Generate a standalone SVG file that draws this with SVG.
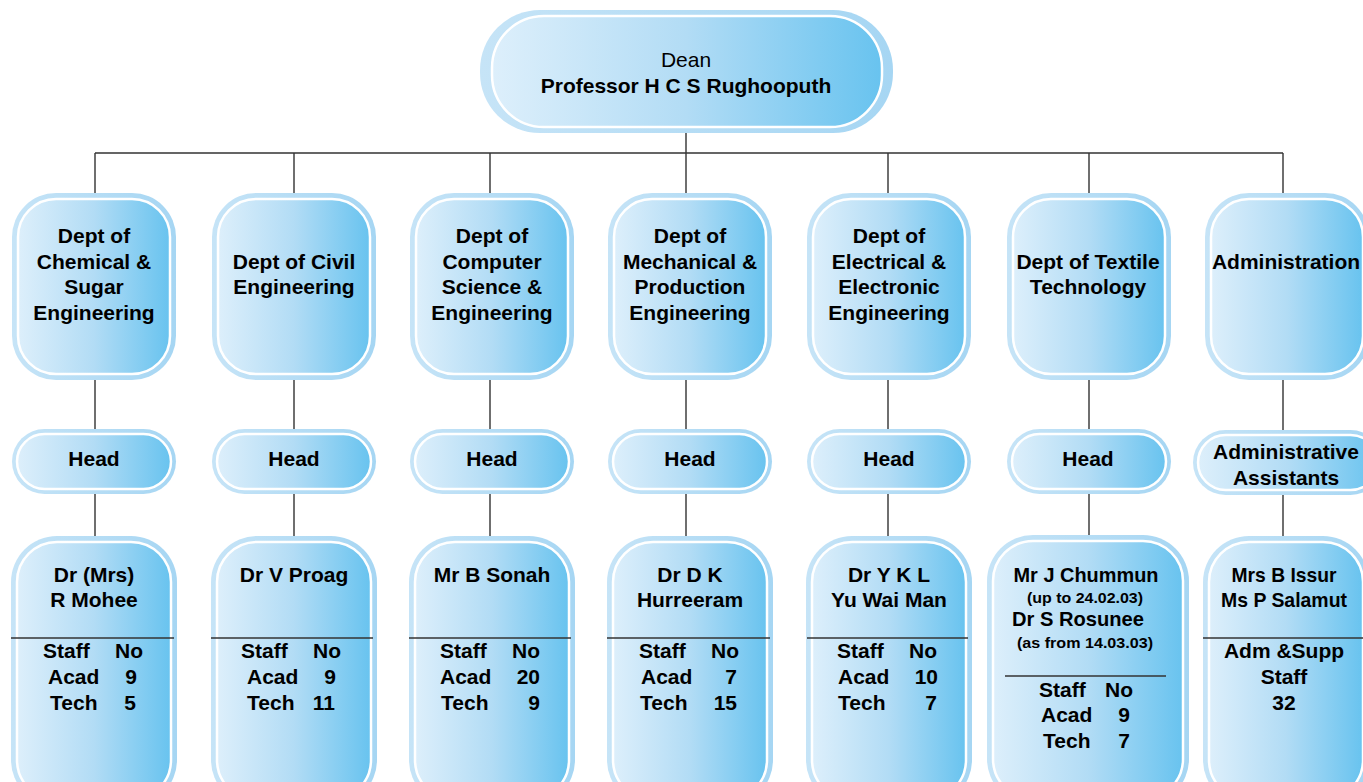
<svg xmlns="http://www.w3.org/2000/svg" width="1363" height="782" viewBox="0 0 1363 782">
<defs>
<linearGradient id="halo" x1="0" y1="0" x2="1" y2="0">
<stop offset="0" stop-color="#c6e4f7"/>
<stop offset="1" stop-color="#a6d6f3"/>
</linearGradient>
<linearGradient id="fill" x1="0" y1="0" x2="1" y2="0">
<stop offset="0" stop-color="#ddeffb"/>
<stop offset="0.5" stop-color="#b2dcf5"/>
<stop offset="1" stop-color="#68c3ef"/>
</linearGradient>
</defs>
<style>
.h{fill:url(#halo)}
.f{fill:url(#fill);stroke:#ffffff;stroke-width:2.5}
.t{font-family:"Liberation Sans",Arial,sans-serif;font-weight:bold;font-size:21px;fill:#000;text-anchor:middle}
.s{text-anchor:start}
.e{text-anchor:end}
.r{font-weight:normal}
.sm{font-size:15px}
.c line,.c path,line.d{stroke:#333;stroke-width:1.4;fill:none}
</style>

<g id="connectors" class="c">
<path d="M686 133V153M95 153H1283M95 153V193M294 153V193M490 153V193M686 153V193M888 153V193M1089 153V193M1283 153V193"/>
<path d="M95 380V429M294 380V429M490 380V429M686 380V429M888 380V429M1089 380V429M1283 380V430"/>
<path d="M95 494V536M294 494V536M490 494V536M686 494V536M888 494V536M1089 494V536M1283 495V536"/>
</g>

<g id="dean">
<rect class="h" x="480" y="10" width="413" height="123" rx="60"/>
<rect class="f" x="492" y="16" width="390" height="111" rx="52"/>
<text class="t r" x="686" y="67">Dean</text>
<text class="t" x="686" y="92.5">Professor H C S Rughooputh</text>
</g>

<!-- Column 1 -->
<g id="dept-chemical">
<rect class="h" x="12" y="193" width="164" height="187" rx="44"/>
<rect class="f" x="18" y="199" width="152" height="175" rx="38"/>
<text class="t" x="94" y="243">Dept of</text>
<text class="t" x="94" y="268.5">Chemical &amp;</text>
<text class="t" x="94" y="294">Sugar</text>
<text class="t" x="94" y="319.5">Engineering</text>
</g>
<g id="head-chemical">
<rect class="h" x="12" y="429" width="164" height="65" rx="32.5"/>
<rect class="f" x="17" y="434" width="154" height="55" rx="27.5"/>
<text class="t" x="94" y="466">Head</text>
</g>
<g id="name-chemical">
<rect class="h" x="11" y="536" width="166" height="270" rx="46"/>
<rect class="f" x="17" y="542" width="154" height="258" rx="40"/>
<text class="t" x="94" y="582">Dr (Mrs)</text>
<text class="t" x="94" y="607">R Mohee</text>
<line class="d" x1="11" y1="638" x2="174" y2="638"/>
<text class="t s" x="43" y="658">Staff</text><text class="t s" x="115" y="658">No</text>
<text class="t s" x="48" y="684">Acad</text><text class="t e" x="137" y="684">9</text>
<text class="t s" x="50" y="710">Tech</text><text class="t e" x="136" y="710">5</text>
</g>

<!-- Column 2 -->
<g id="dept-civil">
<rect class="h" x="212" y="193" width="164" height="187" rx="44"/>
<rect class="f" x="218" y="199" width="152" height="175" rx="38"/>
<text class="t" x="294" y="268.5">Dept of Civil</text>
<text class="t" x="294" y="294">Engineering</text>
</g>
<g id="head-civil">
<rect class="h" x="212" y="429" width="164" height="65" rx="32.5"/>
<rect class="f" x="217" y="434" width="154" height="55" rx="27.5"/>
<text class="t" x="294" y="466">Head</text>
</g>
<g id="name-civil">
<rect class="h" x="211" y="536" width="166" height="270" rx="46"/>
<rect class="f" x="217" y="542" width="154" height="258" rx="40"/>
<text class="t" x="294" y="582">Dr V Proag</text>
<line class="d" x1="211" y1="638" x2="373" y2="638"/>
<text class="t s" x="241" y="658">Staff</text><text class="t s" x="313" y="658">No</text>
<text class="t s" x="247" y="684">Acad</text><text class="t e" x="336" y="684">9</text>
<text class="t s" x="247" y="710">Tech</text><text class="t e" x="335" y="710">11</text>
</g>

<!-- Column 3 -->
<g id="dept-computer">
<rect class="h" x="410" y="193" width="164" height="187" rx="44"/>
<rect class="f" x="416" y="199" width="152" height="175" rx="38"/>
<text class="t" x="492" y="243">Dept of</text>
<text class="t" x="492" y="268.5">Computer</text>
<text class="t" x="492" y="294">Science &amp;</text>
<text class="t" x="492" y="319.5">Engineering</text>
</g>
<g id="head-computer">
<rect class="h" x="410" y="429" width="164" height="65" rx="32.5"/>
<rect class="f" x="415" y="434" width="154" height="55" rx="27.5"/>
<text class="t" x="492" y="466">Head</text>
</g>
<g id="name-computer">
<rect class="h" x="409" y="536" width="166" height="270" rx="46"/>
<rect class="f" x="415" y="542" width="154" height="258" rx="40"/>
<text class="t" x="492" y="582">Mr B Sonah</text>
<line class="d" x1="409" y1="638" x2="571" y2="638"/>
<text class="t s" x="440" y="658">Staff</text><text class="t s" x="512" y="658">No</text>
<text class="t s" x="440" y="684">Acad</text><text class="t e" x="540" y="684">20</text>
<text class="t s" x="441" y="710">Tech</text><text class="t e" x="540" y="710">9</text>
</g>

<!-- Column 4 -->
<g id="dept-mechanical">
<rect class="h" x="608" y="193" width="164" height="187" rx="44"/>
<rect class="f" x="614" y="199" width="152" height="175" rx="38"/>
<text class="t" x="690" y="243">Dept of</text>
<text class="t" x="690" y="268.5">Mechanical &amp;</text>
<text class="t" x="690" y="294">Production</text>
<text class="t" x="690" y="319.5">Engineering</text>
</g>
<g id="head-mechanical">
<rect class="h" x="608" y="429" width="164" height="65" rx="32.5"/>
<rect class="f" x="613" y="434" width="154" height="55" rx="27.5"/>
<text class="t" x="690" y="466">Head</text>
</g>
<g id="name-mechanical">
<rect class="h" x="607" y="536" width="166" height="270" rx="46"/>
<rect class="f" x="613" y="542" width="154" height="258" rx="40"/>
<text class="t" x="690" y="582">Dr D K</text>
<text class="t" x="690" y="607">Hurreeram</text>
<line class="d" x1="607" y1="638" x2="770" y2="638"/>
<text class="t s" x="639" y="658">Staff</text><text class="t s" x="711" y="658">No</text>
<text class="t s" x="641" y="684">Acad</text><text class="t e" x="737" y="684">7</text>
<text class="t s" x="640" y="710">Tech</text><text class="t e" x="737" y="710">15</text>
</g>

<!-- Column 5 -->
<g id="dept-electrical">
<rect class="h" x="807" y="193" width="164" height="187" rx="44"/>
<rect class="f" x="813" y="199" width="152" height="175" rx="38"/>
<text class="t" x="889" y="243">Dept of</text>
<text class="t" x="889" y="268.5">Electrical &amp;</text>
<text class="t" x="889" y="294">Electronic</text>
<text class="t" x="889" y="319.5">Engineering</text>
</g>
<g id="head-electrical">
<rect class="h" x="807" y="429" width="164" height="65" rx="32.5"/>
<rect class="f" x="812" y="434" width="154" height="55" rx="27.5"/>
<text class="t" x="889" y="466">Head</text>
</g>
<g id="name-electrical">
<rect class="h" x="806" y="536" width="166" height="270" rx="46"/>
<rect class="f" x="812" y="542" width="154" height="258" rx="40"/>
<text class="t" x="889" y="582">Dr Y K L</text>
<text class="t" x="889" y="607">Yu Wai Man</text>
<line class="d" x1="807" y1="638" x2="968" y2="638"/>
<text class="t s" x="837" y="658">Staff</text><text class="t s" x="909" y="658">No</text>
<text class="t s" x="838" y="684">Acad</text><text class="t e" x="938" y="684">10</text>
<text class="t s" x="838" y="710">Tech</text><text class="t e" x="937" y="710">7</text>
</g>

<!-- Column 6 -->
<g id="dept-textile">
<rect class="h" x="1007" y="193" width="164" height="187" rx="44"/>
<rect class="f" x="1013" y="199" width="152" height="175" rx="38"/>
<text class="t" x="1088" y="268.5">Dept of Textile</text>
<text class="t" x="1088" y="294">Technology</text>
</g>
<g id="head-textile">
<rect class="h" x="1007" y="429" width="164" height="65" rx="32.5"/>
<rect class="f" x="1012" y="434" width="154" height="55" rx="27.5"/>
<text class="t" x="1088" y="466">Head</text>
</g>
<g id="name-textile">
<rect class="h" x="987" y="535" width="202" height="270" rx="46"/>
<rect class="f" x="993" y="541" width="190" height="258" rx="40"/>
<text class="t" x="1086" y="582" textLength="145" lengthAdjust="spacingAndGlyphs">Mr J Chummun</text>
<text class="t sm" x="1085" y="602.5" textLength="116" lengthAdjust="spacingAndGlyphs">(up to 24.02.03)</text>
<text class="t" x="1078" y="626" textLength="132" lengthAdjust="spacingAndGlyphs">Dr S Rosunee</text>
<text class="t sm" x="1085" y="647.5" textLength="136" lengthAdjust="spacingAndGlyphs">(as from 14.03.03)</text>
<line class="d" x1="1005" y1="676" x2="1166" y2="676"/>
<text class="t s" x="1039" y="697">Staff</text><text class="t s" x="1105" y="697">No</text>
<text class="t s" x="1041" y="722">Acad</text><text class="t e" x="1130" y="722">9</text>
<text class="t s" x="1043" y="748">Tech</text><text class="t e" x="1130" y="748">7</text>
</g>

<!-- Column 7 -->
<g id="dept-administration">
<rect class="h" x="1205" y="193" width="164" height="187" rx="44"/>
<rect class="f" x="1211" y="199" width="152" height="175" rx="38"/>
<text class="t" x="1286" y="268.5">Administration</text>
</g>
<g id="head-administration">
<rect class="h" x="1193" y="430" width="190" height="65" rx="32.5"/>
<rect class="f" x="1198" y="435" width="180" height="55" rx="27.5"/>
<text class="t" x="1286" y="459">Administrative</text>
<text class="t" x="1286" y="484.5">Assistants</text>
</g>
<g id="name-administration">
<rect class="h" x="1203" y="536" width="166" height="270" rx="46"/>
<rect class="f" x="1209" y="542" width="154" height="258" rx="40"/>
<text class="t" x="1284" y="582" textLength="105" lengthAdjust="spacingAndGlyphs">Mrs B Issur</text>
<text class="t" x="1284" y="607" textLength="126" lengthAdjust="spacingAndGlyphs">Ms P Salamut</text>
<line class="d" x1="1203" y1="638" x2="1363" y2="638"/>
<text class="t" x="1284" y="658">Adm &amp;Supp</text>
<text class="t" x="1284" y="684">Staff</text>
<text class="t" x="1284" y="710">32</text>
</g>
</svg>
